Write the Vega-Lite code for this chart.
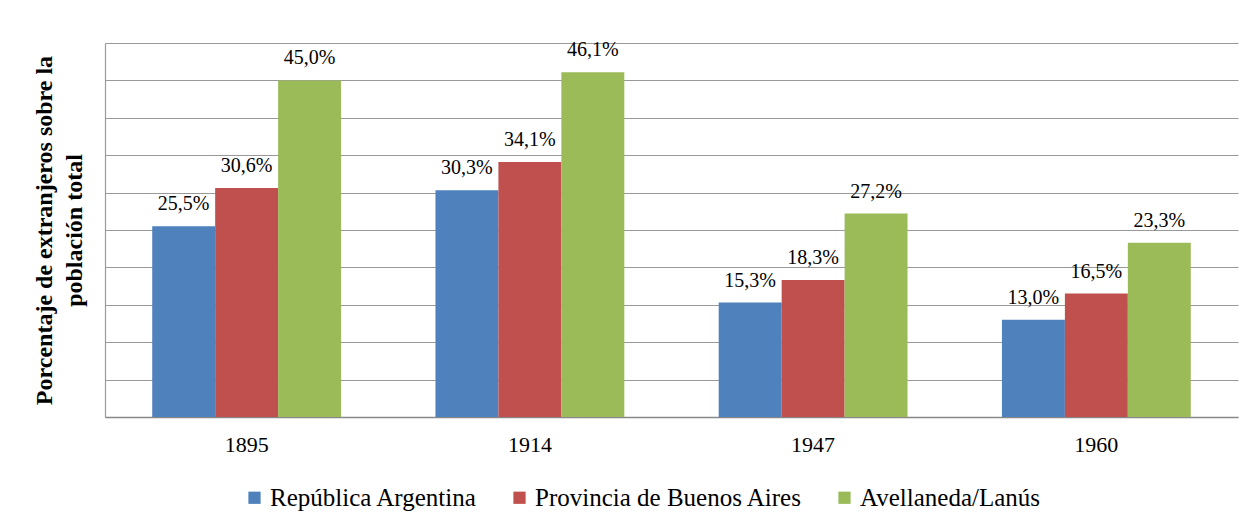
{
  "$schema": "https://vega.github.io/schema/vega-lite/v6.json",
  "autosize": "none",
  "width": 1133,
  "height": 374,
  "padding": {"left": 105, "top": 43, "right": 17, "bottom": 109},
  "background": "white",
  "config": {
    "font": "Liberation Serif",
    "view": {"stroke": null},
    "locale": {"number": {"decimal": ",", "thousands": ".", "grouping": [3], "currency": ["", " €"]}}
  },
  "data": {
    "values": [
      {"year": "1895", "serie": "República Argentina", "pct": 0.255},
      {"year": "1895", "serie": "Provincia de Buenos Aires", "pct": 0.306},
      {"year": "1895", "serie": "Avellaneda/Lanús", "pct": 0.450},
      {"year": "1914", "serie": "República Argentina", "pct": 0.303},
      {"year": "1914", "serie": "Provincia de Buenos Aires", "pct": 0.341},
      {"year": "1914", "serie": "Avellaneda/Lanús", "pct": 0.461},
      {"year": "1947", "serie": "República Argentina", "pct": 0.153},
      {"year": "1947", "serie": "Provincia de Buenos Aires", "pct": 0.183},
      {"year": "1947", "serie": "Avellaneda/Lanús", "pct": 0.272},
      {"year": "1960", "serie": "República Argentina", "pct": 0.130},
      {"year": "1960", "serie": "Provincia de Buenos Aires", "pct": 0.165},
      {"year": "1960", "serie": "Avellaneda/Lanús", "pct": 0.233}
    ]
  },
  "encoding": {
    "x": {
      "field": "year", "type": "nominal",
      "scale": {"paddingInner": 0.3333, "paddingOuter": 0.1667},
      "axis": {
        "title": null, "labelAngle": 0, "labelFontSize": 22, "labelColor": "#000000",
        "labelPadding": 17, "ticks": false, "domainColor": "#888888", "domainWidth": 1.5
      }
    },
    "xOffset": {
      "field": "serie", "type": "nominal",
      "sort": ["República Argentina", "Provincia de Buenos Aires", "Avellaneda/Lanús"],
      "scale": {"paddingInner": 0, "paddingOuter": 0}
    },
    "y": {
      "field": "pct", "type": "quantitative",
      "scale": {"domain": [0, 0.5], "nice": false},
      "axis": {
        "title": ["Porcentaje de extranjeros sobre la", "población total"],
        "titleFontSize": 24, "titleFontWeight": "bold", "titleColor": "#000000",
        "titleLineHeight": 30, "titlePadding": 19,
        "labels": false, "ticks": false, "values": [0, 0.05, 0.1, 0.15, 0.2, 0.25, 0.3, 0.35, 0.4, 0.45, 0.5],
        "grid": true, "gridColor": "#999999", "gridWidth": 1.2,
        "domainColor": "#999999", "domainWidth": 1.2
      }
    }
  },
  "layer": [
    {
      "mark": {"type": "bar"},
      "encoding": {
        "color": {
          "field": "serie", "type": "nominal",
          "scale": {
            "domain": ["República Argentina", "Provincia de Buenos Aires", "Avellaneda/Lanús"],
            "range": ["#4F81BD", "#C0504D", "#9BBB59"]
          },
          "legend": {
            "title": null, "orient": "none", "direction": "horizontal",
            "legendX": 137, "legendY": 442,
            "symbolType": "square", "symbolSize": 150, "symbolStrokeWidth": 0,
            "labelFontSize": 25, "labelColor": "#000000", "labelOffset": 3,
            "columnPadding": 29, "labelLimit": 500
          }
        }
      }
    },
    {
      "mark": {"type": "text", "baseline": "alphabetic", "dy": -16, "fontSize": 20, "color": "#000000"},
      "encoding": {
        "text": {"field": "pct", "type": "quantitative", "format": ".1%"}
      }
    }
  ]
}
